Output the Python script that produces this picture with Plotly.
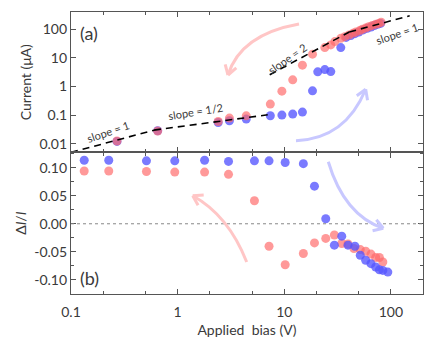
import numpy as np
import plotly.graph_objects as go
from plotly.subplots import make_subplots

# dados (corrente em uA, bias em V)
top_v_fwd = [0.27, 0.65, 2.4, 3.06, 4.4, 7.4, 9.5, 12.0, 14.8, 18.4, 20.6, 24.0, 27.3, 33.9,
             38, 42, 46, 50, 55, 60, 65, 70, 75, 80]
top_i_fwd = [0.0121, 0.0286, 0.0557, 0.0638, 0.0731, 0.0953, 0.1007, 0.109, 0.128, 0.708, 3.25, 3.91, 3.33, 22.9,
             52, 60, 70, 80, 95, 108, 120, 135, 148, 160]

top_v_bwd = [0.27, 0.65, 2.4, 3.06, 4.4, 7.4, 9.5, 12.0, 14.8, 18.4, 24.0, 27.3, 29.8, 33.9,
             37, 40.5, 44, 47, 51, 54, 58, 62, 67, 72, 77, 81]
top_i_bwd = [0.0125, 0.028, 0.060, 0.079, 0.095, 0.244, 0.69, 1.71, 5.57, 13.5, 22.9, 28.4, 37, 48,
             55, 63, 72, 80, 90, 100, 110, 122, 135, 148, 160, 175]

bot_v_fwd = [0.133, 0.226, 0.51, 0.94, 1.79, 3.0, 5.25, 7.2, 10.2, 15.1, 19.2, 24.5, 29.5, 34.6,
             39.6, 46, 51.6, 58, 65, 72, 78, 84, 93.6]
bot_d_fwd = [0.113, 0.113, 0.112, 0.112, 0.113, 0.111, 0.112, 0.112, 0.109, 0.107, 0.067, 0.009, -0.038, -0.022,
             -0.038, -0.040, -0.056, -0.065, -0.071, -0.077, -0.082, -0.083, -0.086]

bot_v_bwd = [0.133, 0.226, 0.51, 0.94, 1.79, 3.0, 5.25, 7.2, 10.2, 15.1, 19.2, 24.5, 29.5, 34.6,
             39.6, 45, 51.6, 58, 65, 72, 78, 84]
bot_d_bwd = [0.094, 0.094, 0.093, 0.092, 0.092, 0.088, 0.041, -0.040, -0.073, -0.053, -0.034, -0.026, -0.020, -0.035,
             -0.036, -0.044, -0.046, -0.049, -0.054, -0.060, -0.060, -0.068]

# retas guia (lei de potencia): (v_ini, v_fim, prefator, expoente)
guias = [(0.1, 0.6, 0.05, 1), (0.6, 7.0, 0.0389, 0.5), (7.3, 40.7, 0.0484, 2), (40.7, 150, 1.97, 1)]

azul = 'rgba(85,85,255,0.78)'
verm = 'rgba(255,105,105,0.68)'
fonte = 'Lato, sans-serif'
cinza = '#3a3a3a'

fig = make_subplots(rows=2, cols=1, shared_xaxes=True, vertical_spacing=0)

fig.add_trace(go.Scatter(x=top_v_fwd, y=top_i_fwd, mode='markers',
                         marker=dict(color=azul, size=9)), row=1, col=1)
fig.add_trace(go.Scatter(x=top_v_bwd, y=top_i_bwd, mode='markers',
                         marker=dict(color=verm, size=9)), row=1, col=1)

for v0, v1, a, n in guias:
    vv = np.array([v0, v1])
    fig.add_trace(go.Scatter(x=vv, y=a * vv ** n, mode='lines',
                             line=dict(color='black', width=1.6, dash='7px,5px')), row=1, col=1)

fig.add_trace(go.Scatter(x=bot_v_bwd, y=bot_d_bwd, mode='markers',
                         marker=dict(color=verm, size=9)), row=2, col=1)
fig.add_trace(go.Scatter(x=bot_v_fwd, y=bot_d_fwd, mode='markers',
                         marker=dict(color=azul, size=9)), row=2, col=1)

# linha pontilhada em zero
fig.add_shape(type='line', xref='x2 domain', yref='y2', x0=0, x1=1, y0=0, y1=0,
              line=dict(color='#888', width=1, dash='dot'))

# setas curvas (coordenadas em pixels da tela -> paper)
W, H = 352.0, 282.0
def p2paper(px, py):
    return (px - 71) / W, (294 - py) / H

setas = [((299, 24), (240.5, 34.5), (228, 75), '#ffc6c6'),
         ((296, 140.7), (345.2, 139), (365.7, 89.3), '#c8c8ff'),
         ((246.7, 262), (228.3, 215.2), (192.7, 195.7), '#ffc6c6'),
         ((328.3, 161.7), (344.2, 215), (383.3, 228.3), '#c8c8ff')]

for p0, c, p1, cor in setas:
    a = p2paper(*p0); b = p2paper(*c); e = p2paper(*p1)
    fig.add_shape(type='path', xref='paper', yref='paper',
                  path=f'M {a[0]},{a[1]} Q {b[0]},{b[1]} {e[0]},{e[1]}',
                  line=dict(color=cor, width=3))
    d = np.array(p1) - np.array(c)
    d = d / np.hypot(*d)
    for ang in (np.radians(32), -np.radians(32)):
        rot = np.array([[np.cos(ang), -np.sin(ang)], [np.sin(ang), np.cos(ang)]])
        q = np.array(p1) - 11 * rot @ d
        qq = p2paper(*q)
        fig.add_shape(type='line', xref='paper', yref='paper',
                      x0=e[0], y0=e[1], x1=qq[0], y1=qq[1],
                      line=dict(color=cor, width=3))

# textos
textos = [(108, 131, 'slope = 1', -19), (195, 112, 'slope = 1/2', -9),
          (287, 58, 'slope = 2', -35), (397, 33, 'slope = 1', -19)]
for px, py, t, rot in textos:
    xx, yy = p2paper(px, py)
    fig.add_annotation(x=xx, y=yy, xref='paper', yref='paper', text=t, textangle=rot,
                       xanchor='center', yanchor='middle',
                       showarrow=False, font=dict(size=11, color=cinza, family=fonte))

fig.add_annotation(x=0.02, y=0.97, xref='paper', yref='paper', text='(a)', showarrow=False,
                   xanchor='left', yanchor='top', font=dict(size=18, color=cinza, family=fonte))
fig.add_annotation(x=0.02, y=0.01, xref='paper', yref='paper', text='(b)', showarrow=False,
                   xanchor='left', yanchor='bottom', font=dict(size=18, color=cinza, family=fonte))

eixo = dict(showline=True, linecolor='#555', linewidth=1.2, mirror='ticks', ticks='inside',
            tickcolor='#555', ticklen=5, showgrid=False, zeroline=False, automargin=False,
            tickfont=dict(size=14, color=cinza, family=fonte))

fig.update_xaxes(type='log', range=[-1, np.log10(200)], tickvals=[0.1, 1, 10, 100],
                 ticktext=['0.1', '1', '10', '100'], ticklabelstandoff=5,
                 minor=dict(ticks='inside', ticklen=3, tickcolor='#555', dtick='D2'), **eixo)
fig.update_xaxes(showticklabels=False, row=1, col=1)
fig.update_xaxes(title=dict(text='Applied&nbsp; bias (V)', font=dict(size=14, color=cinza, family=fonte),
                            standoff=6), row=2, col=1)

fig.update_yaxes(type='log', range=[np.log10(0.005), np.log10(400)],
                 tickvals=[0.01, 0.1, 1, 10, 100], ticktext=['0.01', '0.1', '1', '10', '100'],
                 title=dict(text='Current (μA)', font=dict(size=14, color=cinza, family=fonte), standoff=4),
                 row=1, col=1, **eixo)
fig.update_yaxes(range=[-0.125, 0.127], tickvals=[-0.1, -0.05, 0, 0.05, 0.1],
                 ticktext=['-0.10', '-0.05', '0.00', '0.05', '0.10'],
                 minor=dict(ticks='inside', ticklen=3, tickcolor='#555', dtick=0.025),
                 title=dict(text='Δ<i>I</i>/<i>I</i>', font=dict(size=14, color=cinza, family=fonte), standoff=4),
                 row=2, col=1, **eixo)

# a pagina desloca a figura 8px (margem do body), entao compensa nas margens
fig.update_layout(
    width=436, height=347, autosize=False,
    margin=dict(l=63, r=21, t=4, b=61),
    showlegend=False,
    plot_bgcolor='white', paper_bgcolor='white',
    yaxis=dict(domain=[0.502, 1]),
    yaxis2=dict(domain=[0, 0.502]),
)

fig.write_html("out.html")
